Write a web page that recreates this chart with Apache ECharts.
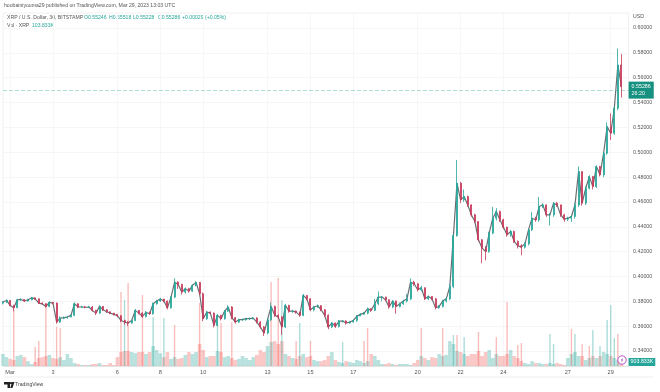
<!DOCTYPE html>
<html>
<head>
<meta charset="utf-8">
<title>XRP / U.S. Dollar</title>
<script src="https://cdn.jsdelivr.net/npm/echarts@6/dist/echarts.min.js"></script>
<style>
  html, body { margin: 0; padding: 0; background: #fff; }
  #chart { width: 660px; height: 392px; }
</style>
</head>
<body>
<div id="chart"></div>
<script>
///////////////////////////////////////////////////
// Used data
///////////////////////////////////////////////////

// One bar every 4 hours
const opens = [
  .3785, .3794, .3807, .3767, .3748, .3812, .3815, .3802, .3812, .3828, .3820, .3786, .3780, .3759, .3791,
  .3786, .3633, .3665, .3668, .3673, .3687, .3780, .3754, .3754, .3752, .3754, .3727, .3705, .3759, .3732,
  .3716, .3705, .3695, .3684, .3646, .3633, .3625, .3646, .3727, .3705, .3678, .3711, .3700, .3780, .3802,
  .3818, .3802, .3748, .3834, .3954, .3936, .3874, .3901, .3882, .3928, .3952, .3861, .3660, .3713, .3705,
  .3606, .3687, .3660, .3721, .3754, .3668, .3633, .3652, .3652, .3660, .3660, .3665, .3633, .3593, .3544,
  .3652, .3759, .3687, .3673, .3593, .3767, .3721, .3721, .3713, .3687, .3847, .3820, .3732, .3754, .3764,
  .3732, .3687, .3593, .3625, .3598, .3641, .3641, .3625, .3633, .3646, .3681, .3695, .3705, .3740, .3727,
  .3780, .3834, .3834, .3812, .3754, .3802, .3759, .3780, .3802, .3820, .3954, .3941, .3893, .3909, .3820,
  .3839, .3820, .3748, .3759, .3802, .3820, .3920, .4330, .4751, .4617, .4643, .4576, .4496, .4442, .4295,
  .4228, .4201, .4349, .4469, .4523, .4456, .4397, .4335, .4362, .4282, .4247, .4236, .4263, .4375, .4469,
  .4456, .4563, .4576, .4496, .4496, .4590, .4576, .4496, .4461, .4469, .4483, .4576, .4844, .4590, .4710,
  .4804, .4724, .4885, .4818, .4992, .5206, .5153, .5354, .5702
];
const closes = [
  .3794, .3807, .3767, .3748, .3812, .3815, .3802, .3812, .3828, .3820, .3786, .3780, .3759, .3791, .3786,
  .3633, .3665, .3668, .3673, .3687, .3780, .3754, .3754, .3752, .3754, .3727, .3705, .3759, .3732, .3716,
  .3705, .3695, .3684, .3646, .3633, .3625, .3646, .3727, .3705, .3678, .3711, .3700, .3780, .3802, .3818,
  .3802, .3748, .3834, .3954, .3936, .3874, .3901, .3882, .3928, .3952, .3861, .3660, .3713, .3705, .3606,
  .3687, .3660, .3721, .3754, .3668, .3633, .3652, .3652, .3660, .3660, .3665, .3633, .3593, .3544, .3652,
  .3759, .3687, .3673, .3593, .3767, .3721, .3721, .3713, .3687, .3847, .3820, .3732, .3754, .3764, .3732,
  .3687, .3593, .3625, .3598, .3641, .3641, .3625, .3633, .3646, .3681, .3695, .3705, .3740, .3727, .3780,
  .3834, .3834, .3812, .3754, .3802, .3759, .3780, .3802, .3820, .3954, .3941, .3893, .3909, .3820, .3839,
  .3820, .3748, .3759, .3802, .3820, .3920, .4330, .4751, .4617, .4643, .4576, .4496, .4442, .4295, .4228,
  .4201, .4349, .4469, .4523, .4456, .4397, .4335, .4362, .4282, .4247, .4236, .4263, .4375, .4469, .4456,
  .4563, .4576, .4496, .4496, .4590, .4576, .4496, .4461, .4469, .4483, .4576, .4844, .4590, .4710, .4804,
  .4724, .4885, .4818, .4992, .5206, .5153, .5354, .5702, .5529
];
const highs = [
  .3802, .3816, .3810, .3772, .3820, .3826, .3818, .3821, .3836, .3832, .3822, .3792, .3782, .3800, .3795,
  .3790, .3680, .3678, .3682, .3695, .3792, .3784, .3764, .3762, .3764, .3762, .3732, .3768, .3762, .3736,
  .3716, .3706, .3695, .3688, .3652, .3640, .3654, .3738, .3730, .3712, .3722, .3716, .3790, .3812, .3828,
  .3820, .3806, .3842, .3985, .3962, .3942, .3912, .3908, .3936, .3962, .3955, .3870, .3722, .3718, .3710,
  .3698, .3692, .3730, .3768, .3760, .3674, .3660, .3662, .3668, .3670, .3674, .3672, .3640, .3600, .3662,
  .3790, .3765, .3695, .3680, .3780, .3772, .3732, .3726, .3716, .3860, .3850, .3826, .3764, .3774, .3770,
  .3738, .3695, .3634, .3630, .3650, .3650, .3648, .3640, .3655, .3690, .3705, .3714, .3750, .3745, .3820,
  .3880, .3842, .3838, .3815, .3810, .3806, .3790, .3812, .3860, .3985, .3965, .3945, .3925, .3912, .3848,
  .3842, .3826, .3770, .3812, .3832, .3940, .4340, .4938, .4760, .4700, .4650, .4580, .4505, .4445, .4300,
  .4245, .4360, .4560, .4550, .4530, .4465, .4400, .4375, .4370, .4290, .4262, .4275, .4385, .4520, .4480,
  .4640, .4590, .4580, .4510, .4600, .4600, .4578, .4505, .4480, .4495, .4590, .4885, .4845, .4725, .4815,
  .4810, .4895, .4890, .5005, .5240, .5313, .5370, .5836, .5790
];
const lows = [
  .3775, .3786, .3760, .3720, .3745, .3805, .3795, .3798, .3808, .3812, .3778, .3772, .3750, .3752, .3776,
  .3620, .3625, .3656, .3660, .3672, .3680, .3745, .3746, .3744, .3746, .3716, .3690, .3698, .3722, .3706,
  .3696, .3686, .3672, .3632, .3610, .3600, .3618, .3640, .3695, .3665, .3670, .3690, .3692, .3772, .3795,
  .3792, .3735, .3740, .3826, .3900, .3855, .3862, .3870, .3875, .3920, .3850, .3640, .3650, .3694, .3590,
  .3600, .3646, .3652, .3715, .3655, .3620, .3625, .3642, .3644, .3650, .3654, .3622, .3580, .3520, .3535,
  .3640, .3675, .3660, .3530, .3585, .3708, .3708, .3700, .3675, .3680, .3808, .3720, .3720, .3750, .3720,
  .3675, .3575, .3585, .3585, .3590, .3628, .3612, .3620, .3628, .3635, .3682, .3692, .3695, .3715, .3720,
  .3770, .3800, .3800, .3740, .3745, .3700, .3750, .3770, .3790, .3810, .3925, .3880, .3880, .3810, .3810,
  .3808, .3735, .3740, .3750, .3790, .3810, .3905, .4320, .4590, .4600, .4560, .4480, .4430, .4280, .4107,
  .4130, .4190, .4340, .4450, .4440, .4380, .4320, .4320, .4270, .4225, .4170, .4225, .4250, .4365, .4440,
  .4440, .4550, .4480, .4410, .4480, .4560, .4480, .4440, .4445, .4440, .4465, .4560, .4570, .4575, .4700,
  .4700, .4712, .4805, .4800, .4980, .5100, .5140, .5340, .5440
];

// Volume in thousands: the even mass at the foot of the chart
const volumes = [
  2700, 2000, 1600, 1350, 2250, 2500, 2000, 1100, 450, 900, 1800, 2000, 2250, 2500, 1800,
  1600, 2000, 1350, 2700, 1800, 675, 450, 225, 225, 225, 450, 450, 675, 225, 225,
  675, 225, 2000, 3150, 3375, 3375, 3150, 2900, 3150, 3150, 2700, 3150, 4500, 3600, 2900,
  2000, 3150, 1600, 2000, 1600, 1800, 2500, 3150, 2700, 3150, 4950, 3600, 2000, 2250, 2250,
  3375, 3150, 2000, 2250, 1800, 1350, 1600, 2250, 1800, 1350, 2000, 2500, 3600, 3150, 4500,
  5400, 5600, 4950, 5600, 2700, 2250, 1800, 1600, 2250, 2700, 2000, 2250, 1350, 1100, 1100,
  1350, 2250, 3150, 1350, 900, 675, 1100, 900, 675, 1350, 1100, 675, 1100, 2700, 2250,
  1350, 450, 450, 675, 450, 225, 450, 450, 450, 225, 675, 1350, 2250, 1800, 1350,
  2000, 1800, 2700, 2250, 2500, 5600, 4950, 3375, 3150, 2700, 2250, 2700, 2700, 3375, 2250,
  3150, 3600, 1800, 2700, 2250, 2250, 2700, 3600, 2250, 1800, 1100, 675, 450, 1100, 675,
  675, 450, 450, 675, 450, 675, 450, 225, 1800, 2700, 3150, 2250, 2250, 1350, 1800,
  2250, 1800, 2250, 3150, 2700, 2250, 1800, 1350, 903.833
];
// Tall thin volume spikes: bar number, volume, up (1) or down (0)
const spikeBars = [3, 9, 10, 12, 15, 16, 33, 34, 35, 39, 42, 45, 48, 55, 60, 61, 64, 75, 77, 78, 82, 83, 86, 95, 101, 102, 117, 123, 126, 127, 129, 133, 138, 141, 144, 145, 153, 154, 159, 160, 162, 164, 165, 167, 169, 170, 171, 172];
const spikeVolumes = [12600, 4275, 5625, 14175, 8775, 8550, 16650, 14850, 18675, 15975, 11025, 10800, 9225, 14175, 9675, 9675, 9900, 18900, 19800, 14850, 5625, 9675, 5625, 5400, 5625, 8550, 8550, 8550, 6975, 6975, 6525, 7650, 6525, 14400, 4725, 5175, 7200, 4950, 8325, 7200, 4950, 4500, 8100, 4500, 10350, 13725, 6300, 7200];
const spikeUp = [0, 0, 0, 0, 0, 0, 0, 1, 0, 0, 1, 1, 0, 0, 1, 0, 0, 0, 0, 1, 0, 1, 0, 1, 0, 0, 0, 0, 1, 0, 1, 0, 0, 0, 0, 0, 1, 1, 0, 1, 0, 0, 1, 1, 1, 1, 1, 0];

// Bars and tick labels of the time axis
const barCount = 176;
const dayBars = [2, 14, 32, 44, 56, 74, 86, 98, 116, 128, 140, 158, 170];
const dayLabels = ['Mar', '3', '6', '8', '10', '13', '15', '17', '20', '22', '24', '27', '29'];
const priceTicks = [0.34, 0.36, 0.38, 0.40, 0.42, 0.44, 0.46, 0.48, 0.50, 0.52, 0.54, 0.56, 0.58, 0.60];
const lastPrice = 0.55286;
const lastVolume = 903.833;

///////////////////////////////////////////////////
// Chart
///////////////////////////////////////////////////
const UP = '#26a69a';
const DOWN = '#c8395b';
const FONT = '"Liberation Sans", Arial, sans-serif';

const categories = [];
for (let i = 0; i < barCount; i++) {
  const tick = dayBars.indexOf(i);
  categories.push(tick >= 0 ? dayLabels[tick] : '');
}
const isDayBar = (index) => dayBars.indexOf(index) >= 0;

const candleData = closes.map((close, i) => [opens[i], close, lows[i], highs[i]]);
const volumeData = volumes.map((value, i) => ({
  value: value,
  itemStyle: { color: closes[i] >= opens[i] ? 'rgba(38,166,154,0.32)' : 'rgba(239,83,80,0.32)' },
}));
const spikeData = spikeBars.map((bar, i) => ({
  value: [bar, spikeVolumes[i]],
  itemStyle: { color: spikeUp[i] ? 'rgba(38,166,154,0.38)' : 'rgba(239,83,80,0.38)' },
}));

// Small helper for the texts above the plot and at the foot
const label = (x, y, text, fill) => ({
  type: 'text',
  x: x,
  y: y,
  style: {
    text: text,
    fill: fill || '#555',
    fontSize: 5.15,
    fontFamily: FONT,
    verticalAlign: 'middle',
  },
});

const option = {
  animation: false,
  backgroundColor: '#fff',
  grid: {
    show: true,
    left: 3,
    right: 31.4,
    top: 13,
    bottom: 26,
    borderColor: '#f0f0f0',
    borderWidth: 1,
  },
  xAxis: [
    {
      type: 'category',
      data: categories,
      boundaryGap: false,
      axisLine: { lineStyle: { color: '#e4e4e4' } },
      axisTick: { show: false },
      axisLabel: {
        interval: isDayBar,
        color: '#555',
        fontSize: 5.6,
        fontFamily: FONT,
        margin: 3,
      },
      splitLine: {
        show: true,
        interval: isDayBar,
        lineStyle: { color: '#f7f7f7' },
      },
    },
    {
      type: 'category',
      data: categories,
      boundaryGap: false,
      show: false,
    },
  ],
  yAxis: [
    {
      type: 'value',
      position: 'right',
      min: 0.32792,
      max: 0.61208,
      scale: true,
      axisLine: { show: false },
      axisTick: { show: false, customValues: priceTicks },
      axisLabel: {
        customValues: priceTicks,
        formatter: (value) => value.toFixed(5),
        color: '#555',
        fontSize: 5.3,
        fontFamily: FONT,
        margin: 4.5,
      },
      splitLine: { show: true, lineStyle: { color: '#f6f6f6' } },
    },
    {
      type: 'value',
      min: 0,
      max: 79425,
      show: false,
    },
  ],
  series: [
    {
      name: 'Vol',
      type: 'bar',
      xAxisIndex: 0,
      yAxisIndex: 1,
      barWidth: 3.6,
      z: 1,
      data: volumeData,
      markLine: {
        silent: true,
        symbol: 'none',
        lineStyle: { color: 'transparent' },
        label: {
          position: 'end',
          distance: 0,
          formatter: lastVolume.toFixed(3) + 'K',
          color: '#fff',
          backgroundColor: UP,
          padding: [1.5, 2, 1.5, 2],
          fontSize: 5.3,
          fontFamily: FONT,
        },
        data: [{ yAxis: lastVolume }],
      },
    },
    {
      name: 'Vol spikes',
      type: 'bar',
      xAxisIndex: 1,
      yAxisIndex: 1,
      barWidth: 1.4,
      z: 1,
      data: spikeData,
    },
    {
      // Thin dark run of the closes, the 30 minute candles merge into this in the picture
      name: 'XRP close',
      type: 'line',
      xAxisIndex: 0,
      yAxisIndex: 0,
      data: closes,
      symbol: 'none',
      z: 2,
      lineStyle: { color: '#50555a', width: 1.2, opacity: 0.85 },
    },
    {
      name: 'XRP',
      type: 'candlestick',
      xAxisIndex: 0,
      yAxisIndex: 0,
      barWidth: 1.5,
      z: 3,
      data: candleData,
      itemStyle: {
        color: UP,
        color0: DOWN,
        borderColor: UP,
        borderColor0: DOWN,
        borderWidth: 0.8,
      },
      markLine: {
        silent: true,
        symbol: 'none',
        lineStyle: { color: 'rgba(38,166,154,0.38)', type: 'dashed', width: 1 },
        label: {
          position: 'end',
          distance: 0,
          formatter: lastPrice.toFixed(5) + '\n26:20',
          color: '#fff',
          backgroundColor: '#16907f',
          padding: [2, 3, 2, 3],
          lineHeight: 6.5,
          fontSize: 5.3,
          fontFamily: FONT,
        },
        data: [{ yAxis: lastPrice }],
      },
    },
  ],
  graphic: [
    label(4, 6, 'houbainiyouma29 published on TradingView.com, Mar 29, 2023 13:03 UTC'),
    label(7, 18, 'XRP / U.S. Dollar, 30, BITSTAMP'),
    label(84, 18, 'O0.55246', UP),
    label(109, 18, 'H0.55518', UP),
    label(133, 18, 'L0.55228', UP),
    label(158, 18, 'C0.55286', UP),
    label(182, 18, '+0.00029 (+0.05%)', UP),
    label(7, 26, 'Vol · XRP'),
    label(32, 26, '103.833K', UP),
    label(633, 17, 'USD'),
    label(15, 385, 'TradingView', '#444'),
    // TradingView mark
    { type: 'polygon', shape: { points: [[4, 382], [10, 382], [10, 388], [7.5, 388], [7.5, 384.5], [4, 384.5]] }, style: { fill: '#222' } },
    { type: 'circle', shape: { cx: 11, cy: 383.2, r: 1.1 }, style: { fill: '#222' } },
    { type: 'polygon', shape: { points: [[12.2, 382], [14.5, 382], [12.4, 388], [10.2, 388]] }, style: { fill: '#222' } },
    // Line below the date labels
    { type: 'line', shape: { x1: 4, y1: 377, x2: 653, y2: 377 }, style: { stroke: '#eee', lineWidth: 1 } },
    // Purple event mark on the last bar
    { type: 'circle', shape: { cx: 622, cy: 360, r: 4.2 }, style: { fill: '#fff', stroke: '#b84fc9', lineWidth: 1 }, z: 10 },
    { type: 'polygon', shape: { points: [[622.8, 357.5], [620.8, 360.5], [622, 360.5], [621.2, 362.5], [623.2, 359.5], [622, 359.5]] }, style: { fill: '#a03cb5' }, z: 11 },
  ],
};

const myChart = echarts.init(document.getElementById('chart'));
myChart.setOption(option);
</script>
</body>
</html>
